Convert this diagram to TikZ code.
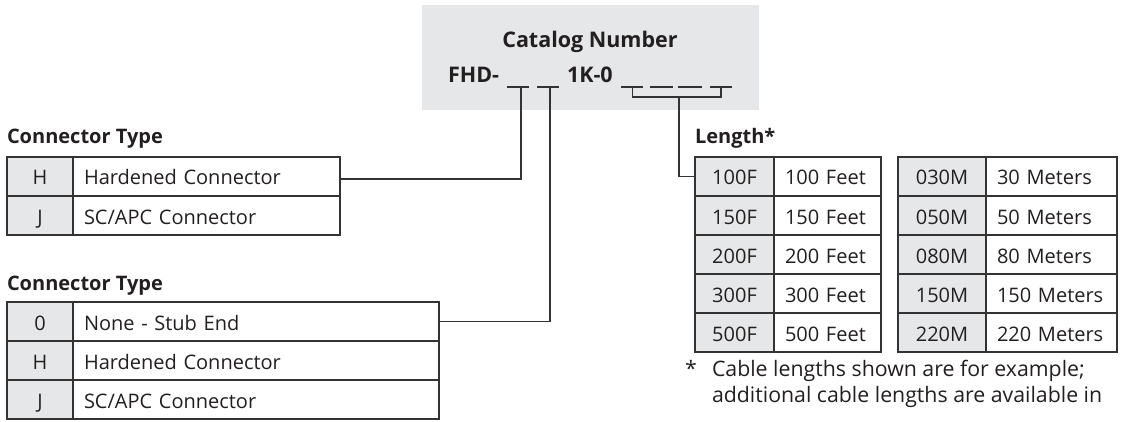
\documentclass[tikz,border=0pt]{standalone}
\usepackage{fontspec}
\setmainfont{Open Sans}
\definecolor{gbg}{HTML}{E6E7E8}
\definecolor{lc}{HTML}{333333}
\definecolor{tc}{HTML}{231F20}
\begin{document}
\begin{tikzpicture}[x=1pt,y=-1pt,
 every node/.style={font=\fontsize{20}{22}\selectfont, inner sep=0pt, outer sep=0pt, text=tc},
 ln/.style={draw=lc, line width=1.2pt},
 codecell/.style={draw=lc, fill=gbg, minimum height=39pt, minimum width=#1, line width=1.2pt, text height=17pt, text depth=0pt},
 desccell/.style={draw=lc, fill=white, minimum height=39pt, text width=#1, align=left, inner xsep=11pt, line width=1.2pt, anchor=west, text height=17pt, text depth=0pt},
 ttl/.style={font=\fontsize{20}{22}\selectfont\bfseries, anchor=base west},
 cattl/.style={font=\fontsize{21.5}{24}\selectfont\bfseries},
 fnote/.style={font=\fontsize{21.3}{24}\selectfont, anchor=base west},
]
\useasboundingbox (0,0) rectangle (1123,422);
% catalog box
\node[fill=gbg, minimum width=337pt, minimum height=105pt, anchor=north west] (cat) at (422,5) {};
\node[cattl, anchor=base] (catt) at (590,48) {Catalog Number};
\node[cattl, anchor=base west] (fhd) at (448,83) {FHD-};
\node[cattl, anchor=base west] (onek) at (567,83) {1K-0};
% blanks
\draw[ln] (507,87) -- (529,87);
\draw[ln] (537,87) -- (559,87);
\draw[ln] (621,87) -- (643,87);
\draw[ln] (650,87) -- (673,87);
\draw[ln] (678,87) -- (702,87);
\draw[ln] (710,87) -- (732,87);
\coordinate (b1) at (521,87);
\coordinate (b2) at (550,87);
\coordinate (l1) at (632.5,87);
\coordinate (l4) at (721,87);
\coordinate (lm) at (679,97);
% table 1
\node[ttl] (t1t) at (7,144) {Connector Type};
\node[codecell=66pt] (t1c1) at (40,176.5) {H};
\node[desccell=245pt] (t1d1) at (73,176.5) {Hardened Connector};
\node[codecell=66pt] (t1c2) at (40,215.5) {J};
\node[desccell=245pt] (t1d2) at (73,215.5) {SC/APC Connector};
% table 2
\node[ttl] (t2t) at (7,290) {Connector Type};
\node[codecell=66pt] (t2c1) at (40,321.5) {0};
\node[desccell=344pt] (t2d1) at (73,321.5) {None - Stub End};
\node[codecell=66pt] (t2c2) at (40,360.5) {H};
\node[desccell=344pt] (t2d2) at (73,360.5) {Hardened Connector};
\node[codecell=66pt] (t2c3) at (40,399.5) {J};
\node[desccell=344pt] (t2d3) at (73,399.5) {SC/APC Connector};
% length tables
\node[ttl] (lt) at (695,144) {Length*};
\foreach \i/\c/\d/\e/\f [count=\k] in {176.5/100F/100 Feet/030M/30 Meters, 215.5/150F/150 Feet/050M/50 Meters, 254.5/200F/200 Feet/080M/80 Meters, 293.5/300F/300 Feet/150M/150 Meters, 332.5/500F/500 Feet/220M/220 Meters}{
  \node[codecell=79pt] (la\k) at (734.5,\i) {\c};
  \node[desccell=85pt] (lad\k) at (774,\i) {\d};
  \node[codecell=88pt] (lb\k) at (942,\i) {\e};
  \node[desccell=109pt] (lbd\k) at (986,\i) {\f};
}
% footnote
\node[fnote] (star) at (685,376) {*};
\node[fnote] (fn1) at (712,376) {Cable lengths shown are for example;};
\node[fnote] (fn2) at (712,402) {additional cable lengths are available in};
% connectors
\draw[ln] (b1) |- ([yshift=-2.5pt]t1d1.east);
\draw[ln] (b2) |- (t2d1.east);
\draw[ln] (l1) -- (l1 |- lm) -- (l4 |- lm) -- (l4);
\draw[ln] (lm) |- (la1.west);
\end{tikzpicture}
\end{document}
